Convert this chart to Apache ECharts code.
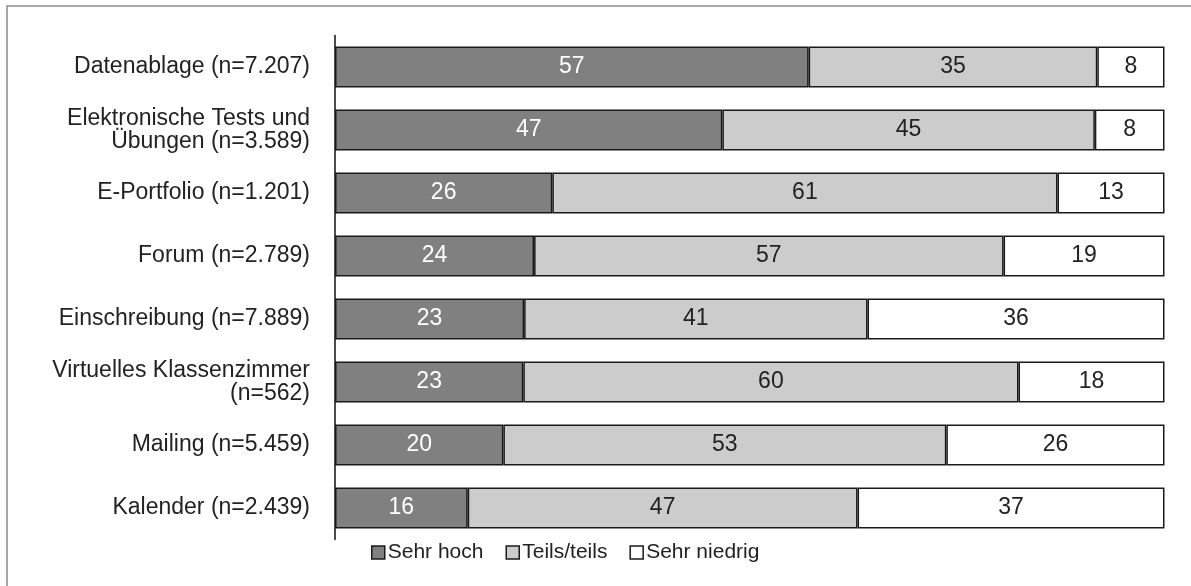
<!DOCTYPE html>
<html>
<head>
<meta charset="utf-8">
<script src="https://cdn.jsdelivr.net/npm/echarts@6/dist/echarts.min.js"></script>
<style>
html,body{margin:0;padding:0;background:#fff;}
#chart{width:1191px;height:586px;}
</style>
</head>
<body>
<div id="chart"></div>
<script>
const categories = [
  "Datenablage (n=7.207)",
  "Elektronische Tests und\nÜbungen (n=3.589)",
  "E-Portfolio (n=1.201)",
  "Forum (n=2.789)",
  "Einschreibung (n=7.889)",
  "Virtuelles Klassenzimmer\n(n=562)",
  "Mailing (n=5.459)",
  "Kalender (n=2.439)"
];
const seriesNames = ["Sehr hoch", "Teils/teils", "Sehr niedrig"];
const sehrHoch   = [57.1, 46.7, 26.2, 24.0, 22.8, 22.7, 20.3, 16.0];
const teilsTeils = [34.8, 44.9, 60.9, 56.6, 41.4, 59.7, 53.4, 47.0];
const sehrNiedrig= [8.1, 8.4, 12.9, 19.4, 35.8, 17.6, 26.3, 37.0];

const FONT = "'Liberation Sans', Arial, sans-serif";
const colors = ["#808080", "#cccccc", "#ffffff"];
const labelColors = ["#ffffff", "#222222", "#222222"];
const dataSets = [sehrHoch, teilsTeils, sehrNiedrig];

const chart = echarts.init(document.getElementById('chart'), null, {renderer: 'canvas'});
chart.setOption({
  animation: false,
  backgroundColor: '#ffffff',
  textStyle: {fontFamily: FONT},
  graphic: [{
    type: 'rect',
    shape: {x: 7, y: 6, width: 1400, height: 800},
    style: {fill: 'none', stroke: '#8c8c8c', lineWidth: 1.5},
    silent: true,
    z: -10
  }],
  legend: {
    data: seriesNames,
    left: 366,
    top: 537,
    icon: 'rect',
    itemWidth: 13,
    itemHeight: 13,
    itemGap: 22,
    textStyle: {fontFamily: FONT, fontSize: 21, color: '#222', padding: [0, 0, 0, -2]},
    itemStyle: {borderColor: '#1a1a1a', borderWidth: 1.5}
  },
  grid: {left: 335, right: 26.5, top: 35.5, bottom: 46.5, containLabel: false},
  xAxis: {type: 'value', min: 0, max: 100, show: false},
  yAxis: {
    type: 'category',
    data: categories,
    inverse: true,
    axisLine: {show: true, lineStyle: {color: '#111', width: 1.5}},
    axisTick: {show: false},
    splitLine: {show: false},
    axisLabel: {fontFamily: FONT, fontSize: 23, color: '#222', margin: 25, lineHeight: 23, align: 'right'}
  },
  series: dataSets.map((d, i) => ({
    name: seriesNames[i],
    type: 'bar',
    stack: 'total',
    barWidth: 41,
    data: d,
    itemStyle: {color: colors[i], borderColor: '#1a1a1a', borderWidth: 1.5},
    label: {
      show: true,
      position: 'inside',
      fontFamily: FONT,
      fontSize: 23,
      color: labelColors[i],
      formatter: p => Math.round(p.value)
    }
  }))
});
</script>
</body>
</html>
